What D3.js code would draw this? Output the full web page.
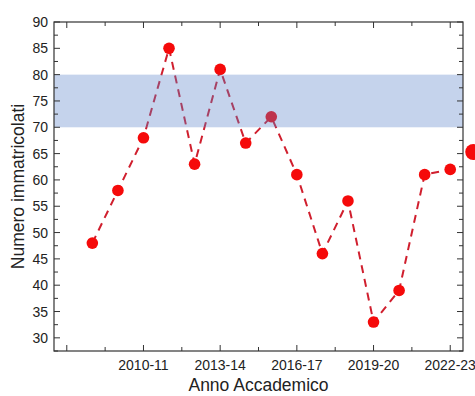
<!DOCTYPE html>
<html>
<head>
<meta charset="utf-8">
<script src="https://cdn.jsdelivr.net/npm/d3@7"></script>
<style>
  body { margin: 0; background: #fff; }
  svg { font-family: "Liberation Sans", Arial, sans-serif; }
</style>
</head>
<body>
<div id="chart"></div>
<script>
// start year of each academic year
const years = [2008, 2009, 2010, 2011, 2012, 2013, 2014, 2015, 2016, 2017, 2018, 2019, 2020, 2021, 2022];
const enrolled = [48, 58, 68, 85, 63, 81, 67, 72, 61, 46, 56, 33, 39, 61, 62];
const extraYear = [2022.9];
const extraValue = [65.3];
const bandRange = [70, 80];
const xTickLabels = ["2010-11", "2013-14", "2016-17", "2019-20", "2022-23"];
const xTickYears = [2010, 2013, 2016, 2019, 2022];
const yTicks = [30, 35, 40, 45, 50, 55, 60, 65, 70, 75, 80, 85, 90];

const W = 475, H = 396;
const margin = { top: 22, right: 12, bottom: 45, left: 54 };

const svg = d3.select("#chart").append("svg")
  .attr("width", W)
  .attr("height", H);

const x = d3.scaleLinear()
  .domain([2006.5, 2022.5])
  .range([margin.left, W - margin.right]);

const y = d3.scaleLinear()
  .domain([27.5, 90])
  .range([H - margin.bottom, margin.top]);

const x0 = x.range()[0], x1 = x.range()[1];
const y0 = y.range()[0], y1 = y.range()[1];

const line = d3.line()
  .x((d, i) => x(years[i]))
  .y(d => y(d));

svg.append("path")
  .datum(enrolled)
  .attr("fill", "none")
  .attr("stroke", "#d01f2e")
  .attr("stroke-width", 2)
  .attr("stroke-dasharray", "8,6")
  .attr("d", line);

svg.selectAll("circle.pt")
  .data(enrolled)
  .enter().append("circle")
  .attr("class", "pt")
  .attr("cx", (d, i) => x(years[i]))
  .attr("cy", d => y(d))
  .attr("r", 5.8)
  .attr("fill", "#f50a0a");

// shaded target band
svg.append("rect")
  .attr("x", x0)
  .attr("width", x1 - x0)
  .attr("y", y(bandRange[1]))
  .attr("height", y(bandRange[0]) - y(bandRange[1]))
  .attr("fill", "#5981c9")
  .attr("fill-opacity", 0.35);

// frame + ticks (all inward)
const majorX = d3.range(2007, 2023, 3);
const minorX = d3.range(2008.5, 2023, 3);
const minorY = d3.range(27.5, 90, 5);

const tick = svg.append("g").attr("stroke", "#333").attr("stroke-width", 1);
majorX.forEach(v => {
  tick.append("line").attr("x1", x(v)).attr("x2", x(v)).attr("y1", y0).attr("y2", y0 - 6);
  tick.append("line").attr("x1", x(v)).attr("x2", x(v)).attr("y1", y1).attr("y2", y1 + 6);
});
minorX.forEach(v => {
  tick.append("line").attr("x1", x(v)).attr("x2", x(v)).attr("y1", y0).attr("y2", y0 - 4);
  tick.append("line").attr("x1", x(v)).attr("x2", x(v)).attr("y1", y1).attr("y2", y1 + 4);
});
yTicks.forEach(v => {
  tick.append("line").attr("x1", x0).attr("x2", x0 + 6).attr("y1", y(v)).attr("y2", y(v));
  tick.append("line").attr("x1", x1).attr("x2", x1 - 6).attr("y1", y(v)).attr("y2", y(v));
});
minorY.forEach(v => {
  tick.append("line").attr("x1", x0).attr("x2", x0 + 4).attr("y1", y(v)).attr("y2", y(v));
  tick.append("line").attr("x1", x1).attr("x2", x1 - 4).attr("y1", y(v)).attr("y2", y(v));
});

svg.append("rect")
  .attr("x", x0).attr("y", y1)
  .attr("width", x1 - x0).attr("height", y0 - y1)
  .attr("fill", "none")
  .attr("stroke", "#333")
  .attr("stroke-width", 1.2);

// extra marker outside the frame
svg.selectAll("circle.extra")
  .data(extraValue)
  .enter().append("circle")
  .attr("class", "extra")
  .attr("cx", (d, i) => x(extraYear[i]))
  .attr("cy", d => y(d))
  .attr("r", 8)
  .attr("fill", "#f50a0a");

// tick labels
svg.selectAll("text.ylab")
  .data(yTicks)
  .enter().append("text")
  .attr("class", "ylab")
  .attr("x", x0 - 6)
  .attr("y", d => y(d) + 5)
  .attr("text-anchor", "end")
  .attr("font-size", 14)
  .attr("fill", "#222")
  .text(d => d);

svg.selectAll("text.xlab")
  .data(xTickLabels)
  .enter().append("text")
  .attr("class", "xlab")
  .attr("x", (d, i) => x(xTickYears[i]))
  .attr("y", y0 + 19)
  .attr("text-anchor", "middle")
  .attr("font-size", 14)
  .attr("fill", "#222")
  .text(d => d);

svg.append("text")
  .attr("x", (x0 + x1) / 2)
  .attr("y", 391)
  .attr("text-anchor", "middle")
  .attr("font-size", 17.5)
  .attr("fill", "#222")
  .text("Anno Accademico");

svg.append("text")
  .attr("transform", "rotate(-90)")
  .attr("x", -(y0 + y1) / 2)
  .attr("y", 24)
  .attr("text-anchor", "middle")
  .attr("font-size", 17.5)
  .attr("fill", "#222")
  .text("Numero immatricolati");
</script>
</body>
</html>
